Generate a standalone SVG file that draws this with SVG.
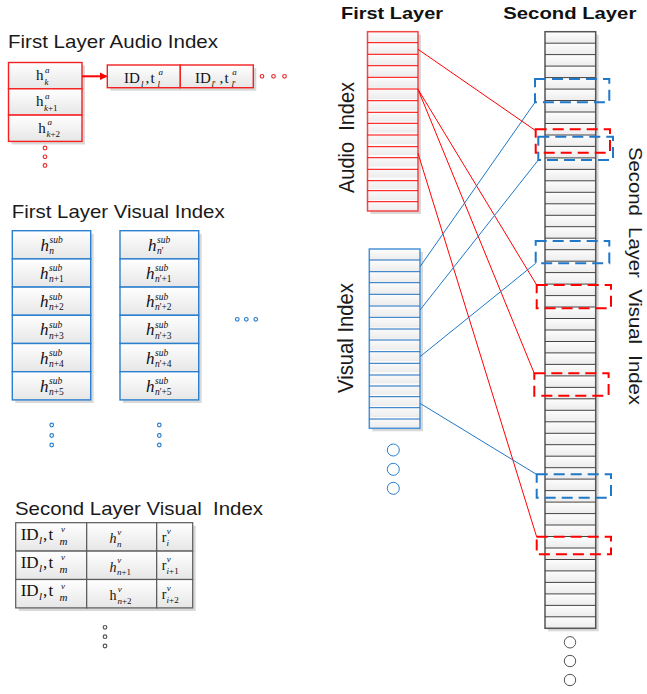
<svg xmlns="http://www.w3.org/2000/svg" width="647" height="694" viewBox="0 0 647 694">
  <defs>
    <style>
      .title{font-family:"Liberation Sans",Arial,sans-serif;font-size:18.5px;fill:#1a1a1a}
      .head{font-family:"Liberation Sans",Arial,sans-serif;font-weight:bold;font-size:17px;fill:#111}
      .side{font-family:"Liberation Sans",Arial,sans-serif;font-size:20px;fill:#1a1a1a;white-space:pre}
      .m{font-family:"Liberation Serif","Times New Roman",serif;fill:#111}
      .i{font-style:italic}
      .s{font-size:9.5px}
      .xs{font-size:9px}
      .shadow{fill:#d9d9d9}
      .cellR{fill:url(#cell);stroke:#f52020;stroke-width:1.4}
      .cellB{fill:url(#cell);stroke:#2b7fcf;stroke-width:1.4}
      .cellG{fill:url(#cell);stroke:#5a5a5a;stroke-width:1.2}
      .dotR{fill:none;stroke:#e83030;stroke-width:1.2}
      .dotB{fill:none;stroke:#2b7fcf;stroke-width:1.2}
      .dotG{fill:none;stroke:#555;stroke-width:1.2}
      .ring{fill:#fff;stroke-width:1}
      .linkR{stroke:#f00;stroke-width:1;fill:none}
      .linkB{stroke:#1f78c8;stroke-width:1;fill:none}
      .dashR{fill:none;stroke:#f00;stroke-width:2;stroke-dasharray:11 6}
      .dashB{fill:none;stroke:#1f78c8;stroke-width:2;stroke-dasharray:11 6}
    </style>
    <linearGradient id="cell" x1="0" y1="0" x2="0" y2="1">
      <stop offset="0" stop-color="#ffffff"/>
      <stop offset="1" stop-color="#e6e6e6"/>
    </linearGradient>
    <linearGradient id="rowShade" x1="0" y1="0" x2="0" y2="1">
      <stop offset="0" stop-color="#fdfdfd"/>
      <stop offset="1" stop-color="#ececec"/>
    </linearGradient>
    <pattern id="rowsAudio" patternUnits="userSpaceOnUse" x="367.5" y="31.7" width="60" height="11.22">
      <rect width="60" height="11.22" fill="url(#rowShade)"/>
    </pattern>
    <pattern id="rowsVisual" patternUnits="userSpaceOnUse" x="369.3" y="249" width="60" height="11.2">
      <rect width="60" height="11.2" fill="url(#rowShade)"/>
    </pattern>
    <pattern id="rowsSecond" patternUnits="userSpaceOnUse" x="545" y="31.7" width="60" height="11.473">
      <rect width="60" height="11.473" fill="url(#rowShade)"/>
    </pattern>
    <marker id="arrowR" markerWidth="8" markerHeight="8" refX="7" refY="4" orient="auto" markerUnits="userSpaceOnUse">
      <path d="M0 0 L8 4 L0 8 Z" fill="#f00"/>
    </marker>
  </defs>

  <rect width="647" height="694" fill="#fff"/>

  <!-- ===== left: first layer audio index ===== -->
  <text class="title" x="8" y="48.3" textLength="210" lengthAdjust="spacingAndGlyphs">First Layer Audio Index</text>

  <g id="audio-hash-table">
    <rect class="shadow" x="11.5" y="65.5" width="73.5" height="79"/>
    <rect class="cellR" x="8.5" y="62.5" width="73.5" height="26.3"/>
    <rect class="cellR" x="8.5" y="88.8" width="73.5" height="26.3"/>
    <rect class="cellR" x="8.5" y="115.1" width="73.5" height="26.3"/>
    <text class="m" font-size="15" x="36" y="80">h<tspan class="i xs" x="45" y="72.5">a</tspan><tspan class="i xs" x="44.5" y="84.5">k</tspan></text>
    <text class="m" font-size="15" x="36" y="106.3">h<tspan class="i xs" x="45" y="98.8">a</tspan><tspan class="xs" x="44" y="110.8"><tspan class="i">k</tspan>+1</tspan></text>
    <text class="m" font-size="15" x="38.3" y="132.6">h<tspan class="i xs" x="47.5" y="125.1">a</tspan><tspan class="xs" x="46.5" y="137.1"><tspan class="i">k</tspan>+2</tspan></text>
  </g>
  <g id="audio-hash-more">
    <circle class="dotR" cx="45" cy="148" r="1.8"/>
    <circle class="dotR" cx="45" cy="156.8" r="1.8"/>
    <circle class="dotR" cx="45" cy="165.5" r="1.8"/>
  </g>

  <g id="audio-posting-list">
    <rect class="shadow" x="110.3" y="68" width="146" height="22.7"/>
    <rect class="cellR" x="107.3" y="65" width="73" height="22.7"/>
    <rect class="cellR" x="180.3" y="65" width="73" height="22.7"/>
    <text class="m" font-size="15" x="124" y="83">ID<tspan class="i xs" x="141" y="86.5">l</tspan><tspan x="145.5" y="83">,</tspan><tspan x="150.5" y="83">t</tspan><tspan class="i xs" x="158.5" y="75">a</tspan><tspan class="i xs" x="157.5" y="87">l</tspan></text>
    <text class="m" font-size="15" x="195" y="83">ID<tspan class="xs" x="211.5" y="86.5"><tspan class="i">l</tspan>'</tspan><tspan x="219.5" y="83">,</tspan><tspan x="224.5" y="83">t</tspan><tspan class="i xs" x="232.3" y="75">a</tspan><tspan class="xs" x="231.5" y="87"><tspan class="i">l</tspan>'</tspan></text>
  </g>
  <g id="audio-posting-more">
    <circle class="dotR" cx="262" cy="76.3" r="1.8"/>
    <circle class="dotR" cx="273.5" cy="76.3" r="1.8"/>
    <circle class="dotR" cx="284.5" cy="76.3" r="1.8"/>
  </g>

  <!-- ===== left: first layer visual index ===== -->
  <text class="title" x="11.7" y="218.3" textLength="213" lengthAdjust="spacingAndGlyphs">First Layer Visual Index</text>

  <g id="visual-sub-list-1">
    <rect class="shadow" x="15.3" y="233.7" width="78.4" height="169.3"/>
    <rect class="cellB" x="12.3" y="230.7" width="78.4" height="28.2"/>
    <rect class="cellB" x="12.3" y="258.9" width="78.4" height="28.2"/>
    <rect class="cellB" x="12.3" y="287.1" width="78.4" height="28.2"/>
    <rect class="cellB" x="12.3" y="315.3" width="78.4" height="28.2"/>
    <rect class="cellB" x="12.3" y="343.5" width="78.4" height="28.2"/>
    <rect class="cellB" x="12.3" y="371.7" width="78.4" height="28.2"/>
    <text class="m i" font-size="17" x="40.5" y="250.7">h<tspan class="s" x="49.5" y="243.2">sub</tspan><tspan class="s" x="49.3" y="253.9">n</tspan></text>
    <text class="m i" font-size="17" x="40" y="278.9">h<tspan class="s" x="49" y="271.4">sub</tspan><tspan class="s" x="49" y="282.1">n<tspan font-style="normal">+1</tspan></tspan></text>
    <text class="m i" font-size="17" x="40" y="307.1">h<tspan class="s" x="49" y="299.6">sub</tspan><tspan class="s" x="49" y="310.3">n<tspan font-style="normal">+2</tspan></tspan></text>
    <text class="m i" font-size="17" x="40" y="335.3">h<tspan class="s" x="49" y="327.8">sub</tspan><tspan class="s" x="49" y="338.5">n<tspan font-style="normal">+3</tspan></tspan></text>
    <text class="m i" font-size="17" x="40" y="363.5">h<tspan class="s" x="49" y="356">sub</tspan><tspan class="s" x="49" y="366.7">n<tspan font-style="normal">+4</tspan></tspan></text>
    <text class="m i" font-size="17" x="40" y="391.7">h<tspan class="s" x="49" y="384.2">sub</tspan><tspan class="s" x="49" y="394.9">n<tspan font-style="normal">+5</tspan></tspan></text>
  </g>
  <g id="visual-sub-list-2">
    <rect class="shadow" x="123" y="233.7" width="78.7" height="169.3"/>
    <rect class="cellB" x="120" y="230.7" width="78.7" height="28.2"/>
    <rect class="cellB" x="120" y="258.9" width="78.7" height="28.2"/>
    <rect class="cellB" x="120" y="287.1" width="78.7" height="28.2"/>
    <rect class="cellB" x="120" y="315.3" width="78.7" height="28.2"/>
    <rect class="cellB" x="120" y="343.5" width="78.7" height="28.2"/>
    <rect class="cellB" x="120" y="371.7" width="78.7" height="28.2"/>
    <text class="m i" font-size="17" x="148" y="250.7">h<tspan class="s" x="157" y="243.2">sub</tspan><tspan class="s" x="157" y="253.9">n<tspan font-style="normal">'</tspan></tspan></text>
    <text class="m i" font-size="17" x="146" y="278.9">h<tspan class="s" x="155" y="271.4">sub</tspan><tspan class="s" x="155" y="282.1">n<tspan font-style="normal">'+1</tspan></tspan></text>
    <text class="m i" font-size="17" x="146" y="307.1">h<tspan class="s" x="155" y="299.6">sub</tspan><tspan class="s" x="155" y="310.3">n<tspan font-style="normal">'+2</tspan></tspan></text>
    <text class="m i" font-size="17" x="146" y="335.3">h<tspan class="s" x="155" y="327.8">sub</tspan><tspan class="s" x="155" y="338.5">n<tspan font-style="normal">'+3</tspan></tspan></text>
    <text class="m i" font-size="17" x="146" y="363.5">h<tspan class="s" x="155" y="356">sub</tspan><tspan class="s" x="155" y="366.7">n<tspan font-style="normal">'+4</tspan></tspan></text>
    <text class="m i" font-size="17" x="146" y="391.7">h<tspan class="s" x="155" y="384.2">sub</tspan><tspan class="s" x="155" y="394.9">n<tspan font-style="normal">'+5</tspan></tspan></text>
  </g>
  <g id="visual-sub-more">
    <circle class="dotB" cx="237.3" cy="319.3" r="1.8"/>
    <circle class="dotB" cx="246.3" cy="319.3" r="1.8"/>
    <circle class="dotB" cx="255.8" cy="319.3" r="1.8"/>
    <circle class="dotB" cx="51.7" cy="425" r="1.8"/>
    <circle class="dotB" cx="51.7" cy="435.5" r="1.8"/>
    <circle class="dotB" cx="51.7" cy="445" r="1.8"/>
    <circle class="dotB" cx="159.3" cy="425" r="1.8"/>
    <circle class="dotB" cx="159.3" cy="435.5" r="1.8"/>
    <circle class="dotB" cx="159.3" cy="445" r="1.8"/>
  </g>

  <!-- ===== left: second layer visual index ===== -->
  <text class="title" x="15" y="515" textLength="248" lengthAdjust="spacingAndGlyphs" style="white-space:pre">Second Layer Visual  Index</text>

  <g id="second-layer-table">
    <rect class="shadow" x="18.7" y="525.7" width="177" height="85.3"/>
    <rect class="cellG" x="15.7" y="522.7" width="71" height="28.4"/>
    <rect class="cellG" x="86.7" y="522.7" width="70" height="28.4"/>
    <rect class="cellG" x="156.7" y="522.7" width="36" height="28.4"/>
    <rect class="cellG" x="15.7" y="551.1" width="71" height="28.4"/>
    <rect class="cellG" x="86.7" y="551.1" width="70" height="28.4"/>
    <rect class="cellG" x="156.7" y="551.1" width="36" height="28.4"/>
    <rect class="cellG" x="15.7" y="579.5" width="71" height="28.4"/>
    <rect class="cellG" x="86.7" y="579.5" width="70" height="28.4"/>
    <rect class="cellG" x="156.7" y="579.5" width="36" height="28.4"/>

    <text class="m" font-size="17" x="20.7" y="539.5">ID<tspan class="i" font-size="11" x="39" y="543.5">l</tspan><tspan x="43" y="539.5">,</tspan><tspan x="48.5" y="539.5">t</tspan><tspan class="i xs" x="61" y="532">v</tspan><tspan class="i" font-size="11" x="59.5" y="544.5">m</tspan></text>
    <text class="m" font-size="17" x="20.7" y="567.9">ID<tspan class="i" font-size="11" x="39" y="571.9">l</tspan><tspan x="43" y="567.9">,</tspan><tspan x="48.5" y="567.9">t</tspan><tspan class="i xs" x="61" y="560.4">v</tspan><tspan class="i" font-size="11" x="59.5" y="572.9">m</tspan></text>
    <text class="m" font-size="17" x="20.7" y="596.3">ID<tspan class="i" font-size="11" x="39" y="600.3">l</tspan><tspan x="43" y="596.3">,</tspan><tspan x="48.5" y="596.3">t</tspan><tspan class="i xs" x="61" y="588.8">v</tspan><tspan class="i" font-size="11" x="59.5" y="601.3">m</tspan></text>

    <text class="m i" font-size="14" x="109.5" y="543.3">h<tspan class="xs" x="117.3" y="535">v</tspan><tspan class="xs" x="117" y="546.8">n</tspan></text>
    <text class="m i" font-size="14" x="109.5" y="571.7">h<tspan class="xs" x="117.3" y="563.4">v</tspan><tspan class="xs" x="117" y="575.2">n<tspan font-style="normal">+1</tspan></tspan></text>
    <text class="m" font-size="14" x="109.5" y="600.1">h<tspan class="i xs" x="117.8" y="591.8">v</tspan><tspan class="xs" x="117.5" y="603.6"><tspan class="i">n</tspan>+2</tspan></text>

    <text class="m" font-size="14" x="161.7" y="542">r<tspan class="i xs" x="166.8" y="534">v</tspan><tspan class="i xs" x="166.6" y="545.8">i</tspan></text>
    <text class="m" font-size="14" x="161.7" y="570.4">r<tspan class="i xs" x="166.8" y="562.4">v</tspan><tspan class="xs" x="166.6" y="574.2"><tspan class="i">i</tspan>+1</tspan></text>
    <text class="m" font-size="14" x="161.7" y="598.8">r<tspan class="i xs" x="166.8" y="590.8">v</tspan><tspan class="xs" x="166.6" y="602.6"><tspan class="i">i</tspan>+2</tspan></text>
  </g>
  <g id="second-layer-table-more">
    <circle class="dotG" cx="105" cy="627.3" r="1.8"/>
    <circle class="dotG" cx="105" cy="636.7" r="1.8"/>
    <circle class="dotG" cx="105" cy="646" r="1.8"/>
  </g>

  <!-- ===== right: layer columns ===== -->
  <text class="head" x="341" y="19" textLength="102" lengthAdjust="spacingAndGlyphs">First Layer</text>
  <text class="head" x="503.3" y="19" textLength="133" lengthAdjust="spacingAndGlyphs">Second Layer</text>

  <text class="side" transform="translate(354 193) rotate(-90) scale(1 1.1)" textLength="111" lengthAdjust="spacingAndGlyphs">Audio  Index</text>
  <text class="side" transform="translate(353 393) rotate(-90) scale(1 1.1)" textLength="110" lengthAdjust="spacingAndGlyphs">Visual Index</text>
  <text class="side" style="font-size:19px" transform="translate(629 147) rotate(90)" textLength="258" lengthAdjust="spacingAndGlyphs">Second  Layer  Visual  Index</text>

  <g id="first-layer-audio">
    <rect class="shadow" x="370.5" y="34.7" width="50.5" height="179.3"/>
    <rect x="367.5" y="31.7" width="50.5" height="179.3" fill="url(#rowsAudio)" stroke="#f54545" stroke-width="1.5"/>
    <path fill="none" stroke="#f00" stroke-width="1" d="M367.5 42.7h50.5M367.5 54.3h50.5M367.5 65.7h50.5M367.5 77.3h50.5M367.5 89h50.5M367.5 100.7h50.5M367.5 112.3h50.5M367.5 123.3h50.5M367.5 135h50.5M367.5 146.7h50.5M367.5 157.7h50.5M367.5 169.3h50.5M367.5 180.7h50.5M367.5 190.7h50.5M367.5 201.7h50.5"/>
  </g>

  <g id="first-layer-visual">
    <rect class="shadow" x="372.3" y="252" width="50.7" height="179.3"/>
    <rect x="369.3" y="249" width="50.7" height="179.3" fill="url(#rowsVisual)" stroke="#4a93d6" stroke-width="1.5"/>
    <path fill="none" stroke="#1a6fc0" stroke-width="1" d="M369.3 260h50.7M369.3 271.7h50.7M369.3 282.7h50.7M369.3 294.3h50.7M369.3 306h50.7M369.3 317.3h50.7M369.3 329h50.7M369.3 340h50.7M369.3 351.7h50.7M369.3 363.3h50.7M369.3 375h50.7M369.3 386h50.7M369.3 396.7h50.7M369.3 407.7h50.7M369.3 419h50.7"/>
  </g>
  <g id="first-layer-visual-more">
    <circle class="ring" stroke="#2b7fcf" cx="393.3" cy="450" r="6"/>
    <circle class="ring" stroke="#2b7fcf" cx="393.3" cy="469.3" r="6"/>
    <circle class="ring" stroke="#2b7fcf" cx="393.3" cy="488.3" r="6"/>
  </g>

  <g id="second-layer-visual">
    <rect class="shadow" x="548" y="34.7" width="50.7" height="596.6"/>
    <rect x="545" y="31.7" width="50.7" height="596.6" fill="url(#rowsSecond)" stroke="#555" stroke-width="1.5"/>
    <path fill="none" stroke="#444" stroke-width="1" d="M545 43.2h50.7M545 54.6h50.7M545 66.1h50.7M545 77.6h50.7M545 89.1h50.7M545 100.5h50.7M545 112h50.7M545 123.5h50.7M545 135h50.7M545 146.4h50.7M545 157.9h50.7M545 169.4h50.7M545 180.8h50.7M545 192.3h50.7M545 203.8h50.7M545 215.3h50.7M545 226.7h50.7M545 238.2h50.7M545 249.7h50.7M545 261.2h50.7M545 272.6h50.7M545 284.1h50.7M545 295.6h50.7M545 307h50.7M545 318.5h50.7M545 330h50.7M545 341.5h50.7M545 352.9h50.7M545 364.4h50.7M545 375.9h50.7M545 387.4h50.7M545 398.8h50.7M545 410.3h50.7M545 421.8h50.7M545 433.3h50.7M545 444.7h50.7M545 456.2h50.7M545 467.7h50.7M545 479.1h50.7M545 490.6h50.7M545 502.1h50.7M545 513.6h50.7M545 525h50.7M545 536.5h50.7M545 548h50.7M545 559.5h50.7M545 570.9h50.7M545 582.4h50.7M545 593.9h50.7M545 605.4h50.7M545 616.8h50.7"/>
  </g>
  <g id="second-layer-visual-more">
    <circle class="ring" stroke="#555" cx="570" cy="642.3" r="5.7"/>
    <circle class="ring" stroke="#555" cx="570" cy="661" r="5.7"/>
    <circle class="ring" stroke="#555" cx="570" cy="680" r="5.7"/>
  </g>

  <!-- ===== connectors ===== -->
  <g id="connectors">
    <line x1="82" y1="76.3" x2="106.5" y2="76.3" stroke="#f00" stroke-width="2" marker-end="url(#arrowR)"/>
    <line class="linkR" x1="418" y1="49.3" x2="535.7" y2="130.7"/>
    <line class="linkR" x1="418" y1="89.3" x2="536.7" y2="285"/>
    <line class="linkR" x1="418" y1="89.3" x2="534.3" y2="373.5"/>
    <line class="linkR" x1="418" y1="153.3" x2="536.7" y2="537"/>
    <line class="linkB" x1="420" y1="266.7" x2="535" y2="102.3"/>
    <line class="linkB" x1="420" y1="310" x2="538.3" y2="160"/>
    <line class="linkB" x1="420" y1="356.7" x2="535.7" y2="263.3"/>
    <line class="linkB" x1="420" y1="403.3" x2="536.7" y2="474.5"/>
  </g>

  <!-- ===== highlighted buckets in the second layer ===== -->
  <g id="bucket-blue-1"><rect class="dashB" x="535" y="79" width="74.3" height="23.3"/></g>
  <g id="bucket-red-1"><rect class="dashR" x="535.7" y="129.3" width="74.3" height="23.4"/></g>
  <g id="bucket-blue-2"><rect class="dashB" x="538.3" y="136.7" width="74.7" height="23.3"/></g>
  <g id="bucket-blue-3"><rect class="dashB" x="535.7" y="241" width="73.6" height="22.3"/></g>
  <g id="bucket-red-2"><rect class="dashR" x="536.7" y="285" width="74.3" height="23.3"/></g>
  <g id="bucket-red-3"><rect class="dashR" x="534.3" y="373.3" width="74.3" height="22.4"/></g>
  <g id="bucket-blue-4"><rect class="dashB" x="536.7" y="474.3" width="74.3" height="23.4"/></g>
  <g id="bucket-red-4"><rect class="dashR" x="536.7" y="536.7" width="74.3" height="17.6"/></g>
</svg>
